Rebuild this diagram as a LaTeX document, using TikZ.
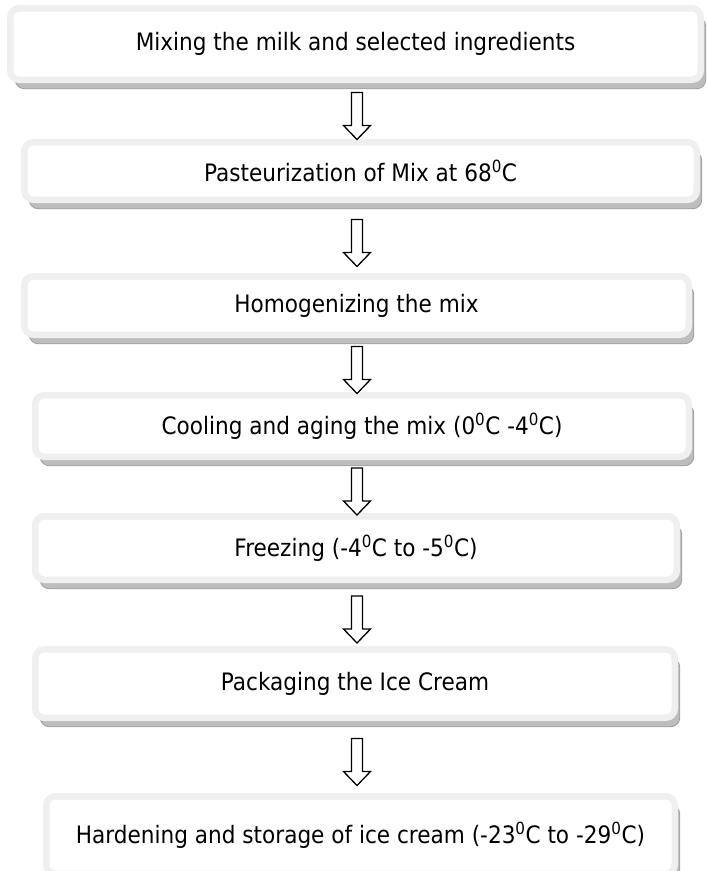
\documentclass[tikz,border=0pt]{standalone}
\usepackage{fontspec}
\setmainfont{DejaVu Sans}[FakeStretch=0.9]
\usetikzlibrary{calc,shadows}
\definecolor{frame}{HTML}{EFEFEF}
\definecolor{shade}{HTML}{BDBDBD}
\tikzset{
  stepbox/.style={rounded corners=9pt, draw=frame, line width=6.5pt, fill=white,
    inner sep=0pt, font=\fontsize{24}{28}\selectfont,
    drop shadow={shadow xshift=5pt, shadow yshift=-9pt, fill=shade, draw=gray!75, line width=0.8pt, opacity=1}},
  blockarrow/.style={draw=black, line width=1.3pt, fill=white, line join=miter}
}
% block arrow of fixed length, centred in the gap between two boxes
\newcommand{\barrow}[2]{%
  \draw[blockarrow] let \p1=($(ax |- #1.south)!0.5!(ax |- #2.north)+(0,5)$) in
    (\x1-5.5pt,\y1+23.5pt) -- (\x1-5.5pt,\y1-9.5pt) -- (\x1-13.5pt,\y1-9.5pt) -- (\x1,\y1-23.5pt)
    -- (\x1+13.5pt,\y1-9.5pt) -- (\x1+5.5pt,\y1-9.5pt) -- (\x1+5.5pt,\y1+23.5pt) -- cycle;}
\begin{document}
\begin{tikzpicture}[x=1pt,y=-1pt]
\useasboundingbox (0,0) rectangle (707,871);
\coordinate (ax) at (357,0);
\node[stepbox, minimum width=690.5pt, minimum height=71.5pt] (b1) at (355.5,44) {Mixing the milk and selected ingredients};
\node[stepbox, minimum width=672.5pt, minimum height=57.5pt] (b2) at (360.5,171) {Pasteurization of Mix at 68\textsuperscript{0}C};
\node[stepbox, minimum width=664.5pt, minimum height=58.5pt] (b3) at (356.5,305.5) {Homogenizing the mix};
\node[stepbox, minimum width=653.5pt, minimum height=61.5pt] (b4) at (362,426) {Cooling and aging the mix (0\textsuperscript{0}C -4\textsuperscript{0}C)};
\node[stepbox, minimum width=641.5pt, minimum height=63.5pt] (b5) at (356,548) {Freezing (-4\textsuperscript{0}C to -5\textsuperscript{0}C)};
\node[stepbox, minimum width=639.5pt, minimum height=68.5pt] (b6) at (355,683.5) {Packaging the Ice Cream};
\node[stepbox, minimum width=628.5pt, minimum height=77.5pt] (b7) at (360.5,835) {Hardening and storage of ice cream (-23\textsuperscript{0}C to -29\textsuperscript{0}C)};
\barrow{b1}{b2}
\barrow{b2}{b3}
\barrow{b3}{b4}
\barrow{b4}{b5}
\barrow{b5}{b6}
\barrow{b6}{b7}
\end{tikzpicture}
\end{document}
